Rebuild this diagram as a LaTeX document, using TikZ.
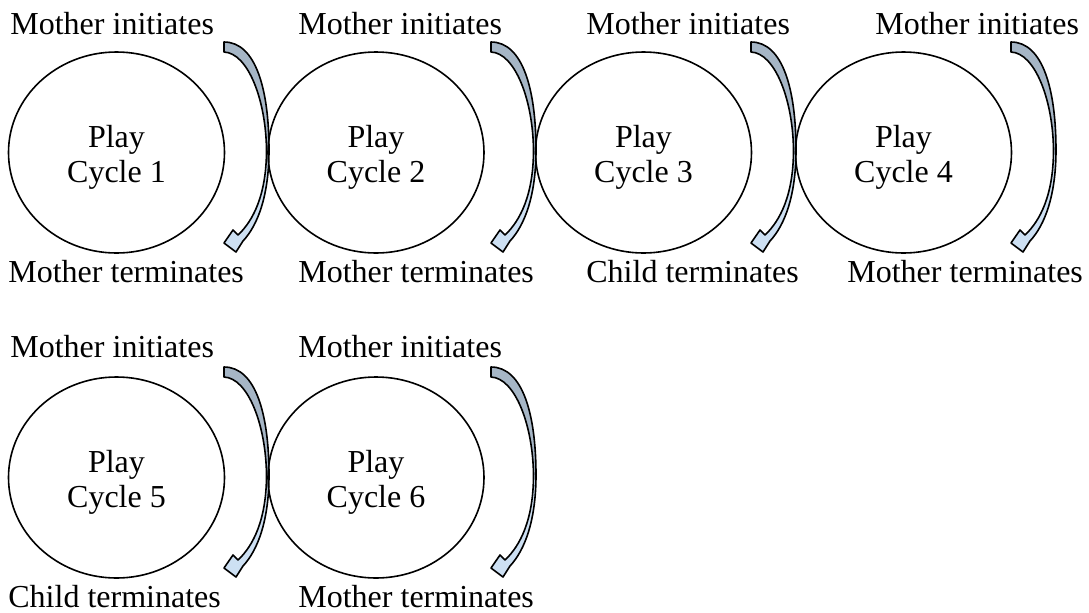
\documentclass[tikz,border=0pt]{standalone}
\usepackage{fontspec}
\setmainfont{Liberation Serif}
\usetikzlibrary{shapes.geometric}
\definecolor{arrowdark}{RGB}{166,182,198}
\definecolor{arrowlight}{RGB}{205,224,243}
\tikzset{
  every node/.style={font=\fontsize{16}{17.5}\selectfont, inner sep=0pt},
  cyc/.style={draw, ellipse, line width=0.8pt, minimum width=108pt, minimum height=100.5pt},
  lab/.style={anchor=base west},
  inlab/.style={anchor=north, align=center},
  pics/carrow/.style={code={
    \fill[arrowdark] (0,1) .. controls (32,1) and (45,49) .. (45,109) -- (42.5,109)
       .. controls (42,59) and (24,12) .. (0,11) -- cycle;
    \fill[arrowlight] (45,109) .. controls (45,154) and (34,184) .. (19,200)
       -- (12,211) -- (0,202) -- (9,189) -- (14,194)
       .. controls (29,180) and (42.5,154) .. (42.5,109) -- cycle;
    \draw[line width=0.8pt, line join=round] (0,1) .. controls (32,1) and (45,49) .. (45,109)
       .. controls (45,154) and (34,184) .. (19,200)
       -- (12,211) -- (0,202) -- (9,189) -- (14,194)
       .. controls (29,180) and (42.5,154) .. (42.5,109)
       .. controls (42,59) and (24,12) .. (0,11) -- cycle;
  }}
}
\begin{document}
\begin{tikzpicture}[x=0.5pt, y=-0.5pt]
\useasboundingbox (0,0) rectangle (1089,612);
% arrows
\pic at (224,41) {carrow};
\pic at (491,41) {carrow};
\pic at (751,41) {carrow};
\pic at (1011,41) {carrow};
\pic at (224,366) {carrow};
\pic at (491,366) {carrow};
% cycles
\node[cyc] (c1) at (116.5,152.5) {};
\node[cyc] (c2) at (376,152.5) {};
\node[cyc] (c3) at (643.5,152.5) {};
\node[cyc] (c4) at (903.5,152.5) {};
\node[cyc] (c5) at (116.5,477.5) {};
\node[cyc] (c6) at (376,477.5) {};
\node[inlab] (t1) at (116.5,125) {Play\\Cycle 1};
\node[inlab] (t2) at (376,125) {Play\\Cycle 2};
\node[inlab] (t3) at (643.5,125) {Play\\Cycle 3};
\node[inlab] (t4) at (903.5,125) {Play\\Cycle 4};
\node[inlab] (t5) at (116.5,450) {Play\\Cycle 5};
\node[inlab] (t6) at (376,450) {Play\\Cycle 6};
% labels
\node[lab] (i1) at (10,34) {Mother initiates};
\node[lab] (i2) at (298,34) {Mother initiates};
\node[lab] (i3) at (586,34) {Mother initiates};
\node[lab] (i4) at (875,34) {Mother initiates};
\node[lab] (e1) at (8,282) {Mother terminates};
\node[lab] (e2) at (298,282) {Mother terminates};
\node[lab] (e3) at (586,282) {Child terminates};
\node[lab] (e4) at (847,282) {Mother terminates};
\node[lab] (i5) at (10,357) {Mother initiates};
\node[lab] (i6) at (298,357) {Mother initiates};
\node[lab] (e5) at (8,607) {Child terminates};
\node[lab] (e6) at (298,607) {Mother terminates};
\end{tikzpicture}
\end{document}
